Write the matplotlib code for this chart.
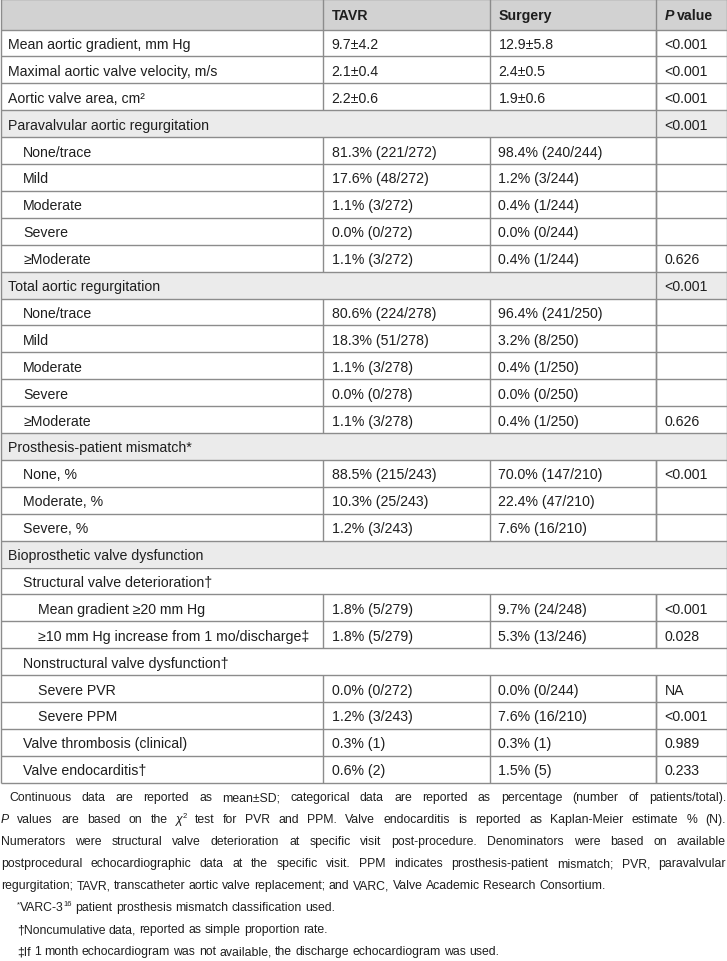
import matplotlib
matplotlib.use("Agg")
import matplotlib.pyplot as plt

# ── Table content ─────────────────────────────────────────────────────────────
col_headers = ["TAVR", "Surgery", "P value"]

labels = [
    "Mean aortic gradient, mm Hg", "Maximal aortic valve velocity, m/s", "Aortic valve area, cm\u00b2",
    "Paravalvular aortic regurgitation",
    "None/trace", "Mild", "Moderate", "Severe", "\u2265Moderate",
    "Total aortic regurgitation",
    "None/trace", "Mild", "Moderate", "Severe", "\u2265Moderate",
    "Prosthesis-patient mismatch*",
    "None, %", "Moderate, %", "Severe, %",
    "Bioprosthetic valve dysfunction",
    "Structural valve deterioration\u2020",
    "Mean gradient \u226520 mm Hg", "\u226510 mm Hg increase from 1 mo/discharge\u2021",
    "Nonstructural valve dysfunction\u2020",
    "Severe PVR", "Severe PPM",
    "Valve thrombosis (clinical)", "Valve endocarditis\u2020",
]
levels = [0, 0, 0, 0, 1, 1, 1, 1, 1, 0, 1, 1, 1, 1, 1, 0, 1, 1, 1, 0, 1, 2, 2, 1, 2, 2, 1, 1]
tavr = [
    "9.7\u00b14.2", "2.1\u00b10.4", "2.2\u00b10.6", "",
    "81.3% (221/272)", "17.6% (48/272)", "1.1% (3/272)", "0.0% (0/272)", "1.1% (3/272)", "",
    "80.6% (224/278)", "18.3% (51/278)", "1.1% (3/278)", "0.0% (0/278)", "1.1% (3/278)", "",
    "88.5% (215/243)", "10.3% (25/243)", "1.2% (3/243)", "", "",
    "1.8% (5/279)", "1.8% (5/279)", "",
    "0.0% (0/272)", "1.2% (3/243)", "0.3% (1)", "0.6% (2)",
]
surgery = [
    "12.9\u00b15.8", "2.4\u00b10.5", "1.9\u00b10.6", "",
    "98.4% (240/244)", "1.2% (3/244)", "0.4% (1/244)", "0.0% (0/244)", "0.4% (1/244)", "",
    "96.4% (241/250)", "3.2% (8/250)", "0.4% (1/250)", "0.0% (0/250)", "0.4% (1/250)", "",
    "70.0% (147/210)", "22.4% (47/210)", "7.6% (16/210)", "", "",
    "9.7% (24/248)", "5.3% (13/246)", "",
    "0.0% (0/244)", "7.6% (16/210)", "0.3% (1)", "1.5% (5)",
]
pvals = [
    "<0.001", "<0.001", "<0.001", "<0.001",
    "", "", "", "", "0.626", "<0.001",
    "", "", "", "", "0.626", "",
    "<0.001", "", "", "", "",
    "<0.001", "0.028", "",
    "NA", "<0.001", "0.989", "0.233",
]
# row kinds: d = data, sp = shaded section with P cell, sf = shaded full span, w = white full span
kinds = ["d", "d", "d", "sp", "d", "d", "d", "d", "d", "sp", "d", "d", "d", "d", "d",
         "sf", "d", "d", "d", "sf", "w", "d", "d", "w", "d", "d", "d", "d"]

# footnote lines: list of (text, style) segments; style n = normal, i = italic, s = superscript
notes = [
    [("Continuous data are reported as mean\u00b1SD; categorical data are reported as percentage (number of patients/total).", "n")],
    [("P", "i"), (" values are based on the ", "n"), ("\u03c7", "i"), ("2", "s"),
     (" test for PVR and PPM. Valve endocarditis is reported as Kaplan-Meier estimate % (N).", "n")],
    [("Numerators were structural valve deterioration at specific visit post-procedure. Denominators were based on available", "n")],
    [("postprocedural echocardiographic data at the specific visit. PPM indicates prosthesis-patient mismatch; PVR, paravalvular", "n")],
    [("regurgitation; TAVR, transcatheter aortic valve replacement; and VARC, Valve Academic Research Consortium.", "n")],
    [("*", "s"), ("VARC-3", "n"), ("16", "s"), (" patient prosthesis mismatch classification used.", "n")],
    [("\u2020Noncumulative data, reported as simple proportion rate.", "n")],
    [("\u2021If 1 month echocardiogram was not available, the discharge echocardiogram was used.", "n")],
]
note_justify = [True, True, True, True, False, False, False, False]
note_indent = [8, 0, 0, 0, 0, 16, 16, 16]

# ── Layout ────────────────────────────────────────────────────────────────────
W, H = 727, 962
COL_X = [0.5, 322.5, 489.5, 655.5, 726.5]
HEADER_H = 30.5
ROW_H = 26.9
LEVEL_X = [8, 23, 38]
HEADER_BG = "#d2d2d2"
SECTION_BG = "#ebebeb"
LINE_C = "#8c8c8c"
TXT_C = "#1e1e1e"
FONT = "Liberation Sans"
FS = 10.2
FS_NOTE = 8.8

fig = plt.figure(figsize=(W / 100, H / 100), dpi=100, facecolor="white")
ax = fig.add_axes([0, 0, 1, 1])
ax.set_xlim(0, W)
ax.set_ylim(H, 0)
ax.axis("off")
renderer = fig.canvas.get_renderer()


def width_of(s, size, style="normal", weight="normal"):
    t = ax.text(0, 0, s, fontsize=size, fontstyle=style, fontweight=weight, family=FONT)
    w = t.get_window_extent(renderer).width
    t.remove()
    return w


def txt(x, y, s, size=None, weight="normal", style="normal", **kw):
    # y is the row centre; text sits on a baseline a little below it
    return ax.text(x, y + 5, s, fontsize=size or FS, fontweight=weight, fontstyle=style,
                   family=FONT, color=TXT_C, va="baseline", ha="left", **kw)


def hline(y, x0=COL_X[0], x1=COL_X[-1]):
    ax.plot([x0, x1], [y, y], color=LINE_C, lw=1.0, solid_capstyle="butt")


def vline(x, y0, y1):
    ax.plot([x, x], [y0, y1], color=LINE_C, lw=1.0, solid_capstyle="butt")


# header
ax.add_patch(plt.Rectangle((COL_X[0], 0), COL_X[-1] - COL_X[0], HEADER_H, color=HEADER_BG, lw=0))
txt(COL_X[1] + 9, HEADER_H / 2, col_headers[0], weight="bold")
txt(COL_X[2] + 9, HEADER_H / 2, col_headers[1], weight="bold")
txt(COL_X[3] + 9, HEADER_H / 2, "P", weight="bold", style="italic")
pw = width_of("P", FS, style="italic", weight="bold") + 3
txt(COL_X[3] + 9 + pw, HEADER_H / 2, col_headers[2][1:].strip(), weight="bold")
for x in COL_X[1:4]:
    vline(x, 0, HEADER_H)

# body rows
n = len(labels)
for i in range(n):
    y0 = HEADER_H + i * ROW_H
    y1 = y0 + ROW_H
    yc = (y0 + y1) / 2
    k = kinds[i]
    if k in ("sp", "sf"):
        ax.add_patch(plt.Rectangle((COL_X[0], y0), COL_X[-1] - COL_X[0], ROW_H,
                                   color=SECTION_BG, lw=0))
    txt(LEVEL_X[levels[i]], yc, labels[i])
    if k == "d":
        for x in COL_X[1:4]:
            vline(x, y0, y1)
        txt(COL_X[1] + 9, yc, tavr[i])
        txt(COL_X[2] + 9, yc, surgery[i])
    if k in ("d", "sp"):
        vline(COL_X[3], y0, y1)
        txt(COL_X[3] + 9, yc, pvals[i])
    hline(y0)

table_bottom = HEADER_H + n * ROW_H
hline(table_bottom)
hline(0)
vline(COL_X[0], 0, table_bottom)
vline(COL_X[-1], 0, table_bottom)


# ── Footnotes ─────────────────────────────────────────────────────────────────
def seg_props(style):
    if style == "i":
        return dict(size=FS_NOTE, style="italic", dy=0)
    if style == "s":
        return dict(size=FS_NOTE * 0.62, style="normal", dy=-5)
    return dict(size=FS_NOTE, style="normal", dy=0)


def split_words(segs):
    words, cur = [], []
    for s, st in segs:
        parts = s.split(" ")
        for j, p in enumerate(parts):
            if j > 0:
                if cur:
                    words.append(cur)
                cur = []
            if p:
                cur.append((p, st))
    if cur:
        words.append(cur)
    return words


def measure(s, st):
    pr = seg_props(st)
    return width_of(s, pr["size"], style=pr["style"])


space_w = measure("a a", "n") - measure("aa", "n")
NOTE_Y0 = 797
NOTE_DY = 22
for li, segs in enumerate(notes):
    y = NOTE_Y0 + li * NOTE_DY + 4.5
    words = split_words(segs)
    widths = [[measure(p, st) for p, st in w] for w in words]
    tot = sum(sum(w) for w in widths)
    x0 = 1 + note_indent[li]
    x1 = W - 1
    gap = (x1 - x0 - tot) / (len(words) - 1) if note_justify[li] else space_w
    x = x0
    for w, ws in zip(words, widths):
        for (p, st), pw_ in zip(w, ws):
            pr = seg_props(st)
            ax.text(x, y + pr["dy"], p, fontsize=pr["size"], fontstyle=pr["style"],
                    family=FONT, color=TXT_C, va="baseline", ha="left")
            x += pw_
        x += gap

fig.savefig("out.png", dpi=100, facecolor="white")
